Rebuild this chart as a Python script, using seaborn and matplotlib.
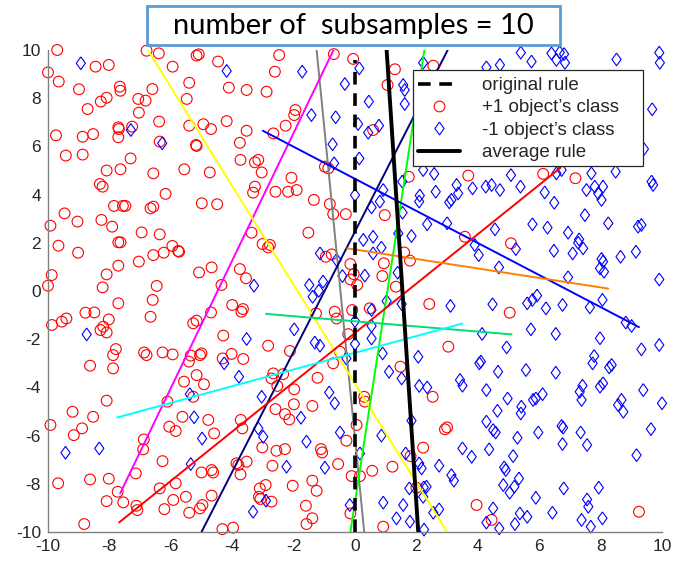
import numpy as np
import pandas as pd
import matplotlib
matplotlib.use("Agg")
import matplotlib.pyplot as plt
import seaborn as sns
from matplotlib.lines import Line2D
from matplotlib.patches import Rectangle

# ---------------- data ----------------
# +1 class (red circles)
pos_pts = [
    (-9.70,10.0),(-10.0,9.07),(-9.65,8.69),(-8.45,9.31),(-8.02,9.38),(-8.99,8.37),(-7.66,8.48),(-7.64,8.31),
    (-8.28,7.86),(-8.09,8.02),(-8.71,7.55),(-7.06,7.97),(-6.82,7.90),(-6.60,8.38),(-7.04,7.40),(-6.79,9.97),
    (-6.39,9.86),(-5.94,9.31),(-5.16,9.77),(-5.09,9.82),(-4.46,9.52),(-4.11,8.44),(-3.53,8.34),(-5.40,8.64),
    (-5.48,7.97),(-6.38,7.03),(-5.40,6.86),(-4.94,6.92),(-4.69,6.72),(-4.18,7.05),(-3.53,6.65),(-3.75,6.15),
    (-3.73,5.44),(-9.74,6.46),(-8.87,6.40),(-8.53,6.51),(-9.42,5.62),(-8.87,5.66),(-7.71,6.79),(-7.69,6.72),
    (-7.71,6.38),(-7.26,6.82),(-7.31,5.50),(-7.64,5.05),(-8.09,5.00),(-8.31,4.44),(-8.22,4.33),(-6.36,6.20),
    (-5.18,6.06),(-5.16,6.02),(-6.57,4.88),(-5.56,5.05),(-4.73,4.92),(-6.17,4.03),
    (-7.85,3.53),(-7.56,3.53),(-7.48,3.53),(-9.46,3.22),(-9.04,2.88),(-9.92,2.71),(-8.26,2.95),(-7.91,2.67),
    (-6.66,3.43),(-6.57,3.50),(-4.99,3.64),(-4.49,3.60),(-9.66,1.88),(-9.02,1.59),(-7.71,2.02),(-7.64,2.02),
    (-6.95,2.43),(-6.36,2.35),(-5.95,1.87),(-5.76,1.66),(-5.73,1.63),(-6.57,1.49),(-6.23,1.59),(-7.04,1.22),
    (-7.71,1.05),(-8.09,0.69),(-9.88,0.66),(-10.0,0.22),(-8.22,0.15),(-6.46,0.21),(-6.59,-0.37),(-7.71,-0.51),
    (-6.66,-1.07),(-8.78,-0.90),(-8.49,-0.89),(-8.02,-1.18),(-9.40,-1.14),(-9.55,-1.27),(-9.87,-1.41),
    (-8.20,-1.48),(-8.29,-1.62),(-8.09,-1.72),(-4.67,0.98),(-5.08,0.77),(-4.35,0.25),(-3.75,0.91),(-3.55,0.53),
    (-4.00,-0.58),(-3.70,-0.86),(-3.65,-0.75),(-4.69,-0.89),(-5.27,-1.34),(-5.16,-1.23),(-4.29,-1.85),
    (-7.79,-2.41),(-7.88,-2.66),(-6.87,-2.55),(-6.79,-2.66),(-6.27,-2.55),(-5.94,-2.63),(-5.35,-2.68),
    (-5.05,-2.66),(-5.00,-2.59),(-4.31,-2.80),(-4.02,-2.61),(-3.64,-2.82),
    (-8.63,-3.10),(-7.88,-3.21),(-5.57,-3.76),(-5.16,-3.49),(-4.92,-3.87),(-5.41,-2.93),(-5.27,-4.39),
    (-8.09,-4.55),(-9.20,-5.01),(-9.92,-5.56),(-8.53,-5.22),(-8.89,-5.70),(-9.16,-5.98),(-6.11,-4.59),
    (-5.62,-5.22),(-6.05,-5.63),(-5.84,-5.81),(-4.78,-5.35),(-4.59,-5.91),(-3.72,-5.35),(-3.67,-5.70),
    (-6.88,-6.16),(-6.90,-6.57),(-6.27,-7.06),(-3.86,-7.15),(-3.80,-7.22),(-3.53,-7.08),(-3.73,-7.61),
    (-5.00,-7.53),(-4.67,-7.43),(-4.62,-7.53),(-7.14,-7.57),(-8.63,-7.82),(-8.02,-7.79),(-9.67,-7.98),
    (-7.73,-8.33),(-7.55,-8.77),(-8.09,-8.72),(-5.84,-7.98),(-6.36,-8.19),(-5.92,-8.67),(-5.51,-8.54),
    (-4.67,-8.49),(-7.12,-8.91),(-7.09,-9.09),(-6.21,-9.05),(-5.40,-9.20),(-5.05,-9.02),(-4.97,-8.88),
    (-8.82,-9.67),(-4.32,-9.88),(-3.97,-9.82),
    (-2.47,9.79),(-2.61,9.10),(-0.69,9.83),(-0.06,9.63),(1.30,9.20),(2.55,9.35),(1.06,8.55),(-2.88,8.27),
    (-1.94,7.51),(-1.98,7.30),(-2.26,6.86),(-2.66,6.54),(0.59,6.68),(-3.15,5.44),(-3.26,5.34),(-3.04,4.92),
    (-0.98,5.16),(-0.87,5.09),(-2.07,4.70),(-2.59,4.12),(-2.18,4.12),(-1.90,4.19),(-3.32,4.08),(-3.26,4.33),
    (1.75,4.74),
    (-1.34,3.78),(-0.82,3.61),(-0.71,3.19),(-0.30,3.19),(0.97,3.15),(-1.52,2.42),(-3.37,2.42),(-3.01,1.95),
    (-2.77,1.91),(-2.83,1.81),(-0.95,1.42),(-0.76,1.52),(-0.15,1.12),(-0.04,0.70),(-0.15,0.48),(0.07,0.25),
    (0.89,0.62),(0.94,1.15),(1.60,1.60),(1.79,1.26),(1.33,0.18),(-1.27,-0.93),(-0.60,-1.14),(-0.66,-0.86),
    (-0.09,-0.79),(0.48,-0.72),(2.42,-0.54),(-0.22,-1.79),(-2.83,-2.27),(-2.12,-2.49),(-0.49,-2.52),(3.04,-2.31),
    (-0.71,-3.00),(1.48,-3.14),(-2.66,-3.42),(-2.72,-3.63),(-2.34,-3.45),(-1.22,-3.60),(-2.53,-3.94),
    (-1.98,-4.08),(0.30,-4.39),(0.32,-4.59),(2.53,-4.39),(-2.59,-4.90),(-2.28,-5.11),(-2.14,-5.33),
    (-1.99,-4.70),(-1.39,-4.77),(0.05,-5.56),(-0.28,-6.21),(2.93,-5.74),(3.00,-5.66),(-3.02,-6.49),
    (-2.56,-6.63),(-2.28,-6.56),(-1.11,-6.56),(-1.07,-6.70),(2.22,-6.50),(1.81,-6.85),(-2.69,-7.25),
    (-0.55,-7.18),(1.22,-7.29),(0.56,-7.46),(-0.11,-7.68),(0.16,-7.68),(-1.39,-7.87),(-2.03,-8.08),
    (-1.25,-8.29),(-3.10,-8.19),(-2.91,-8.05),(-3.13,-8.54),(-3.08,-8.63),(-2.72,-8.74),(2.00,-8.16),
    (-1.60,-8.91),(-1.39,-9.43),(-1.58,-9.67),(-0.15,-9.23),(0.92,-9.78),
    (3.69,4.79),(6.13,4.86),(7.18,4.68),(3.58,2.25),(5.08,1.98),(5.04,-0.90),
    (3.96,-8.88),(4.45,-9.50),(9.25,-9.16),
]

# -1 class (blue diamonds)
neg_pts = [
    (-8.93,9.45),(-7.30,6.68),(-6.28,6.13),(-4.18,9.13),(-8.74,-1.80),(-3.53,-1.99),
    (-4.26,-3.00),(-3.78,-3.56),(-5.38,-4.28),(-5.24,-5.24),(-4.98,-6.12),(-5.35,-7.18),(-9.43,-6.71),(-8.33,-6.53),
    (-1.72,9.10),(0.14,9.24),(-0.33,8.59),(0.45,7.86),(-1.42,7.30),(-0.63,7.21),(0.10,6.93),(0.43,6.57),
    (0.78,6.86),(-0.73,6.09),(0.14,5.50),(-0.68,5.30),(1.57,8.55),(1.62,8.34),(1.62,7.76),(2.22,9.47),
    (2.22,5.02),(2.58,4.86),(1.54,4.54),(0.92,4.19),(2.11,3.96),(2.63,4.12),
    (0.54,3.47),(0.81,3.71),(1.55,3.25),(2.09,3.71),(3.07,3.68),(3.14,3.78),(2.35,2.77),(3.00,2.81),
    (1.41,2.39),(1.84,2.28),(0.27,2.12),(0.59,2.25),(0.86,1.80),(0.59,1.56),(-1.14,1.56),(-0.60,1.29),
    (0.32,0.64),(-0.41,0.62),(1.39,0.76),(-3.29,0.22),(-1.49,0.25),(-1.04,0.39),(-1.38,-0.24),(-1.18,0.01),
    (1.03,-0.42),(1.52,-0.54),(3.11,-0.62),(0.00,-1.25),(0.54,-0.79),(0.54,-1.45),(-1.98,-1.59),
    (-1.31,-2.14),(-1.14,-2.27),(0.54,-1.97),(0.90,-2.59),(0.00,-2.20),(2.06,-2.73),(0.00,3.98),
    (-0.28,-2.80),(1.11,-3.35),(1.52,-3.63),(2.09,-3.94),(2.35,-4.00),(-3.04,-4.39),(-0.84,-4.21),
    (-0.66,-4.66),(-1.76,-5.26),(-3.15,-5.70),(-2.99,-6.05),(-0.49,-5.87),(0.86,-6.00),(1.84,-5.38),
    (-1.58,-6.25),(0.16,-6.74),(1.65,-6.74),(2.09,-7.15),(2.17,-7.36),(2.74,-7.25),(-2.23,-7.29),
    (-0.98,-7.33),(1.77,-8.19),(2.24,-8.15),(2.33,-8.12),(2.22,-8.54),(-2.90,-8.70),(-3.32,-9.16),
    (-0.17,-8.88),(0.92,-8.78),(1.57,-8.88),(2.55,-9.20),(2.74,-9.06),(1.35,-9.43),(1.79,-9.57),(2.25,-9.90),
    (5.40,9.89),(5.75,9.52),(6.40,9.86),(6.67,9.90),(6.81,9.83),(6.56,9.59),(6.84,9.47),(8.52,9.61),
    (9.91,9.89),(9.93,9.47),(4.72,9.38),(4.28,9.28),(9.68,7.54),(9.41,5.89),(3.31,4.40),(3.36,4.05),
    (3.83,4.26),(4.26,4.33),(4.45,4.40),(4.72,4.19),(5.08,4.81),(5.39,4.33),(6.18,4.09),(6.56,4.88),
    (6.73,5.02),(7.70,4.88),(7.81,4.33),(7.54,4.19),(7.92,4.05),(8.08,4.33),(8.49,4.95),(9.66,4.54),(9.71,4.40),
    (8.03,3.78),(6.49,3.66),(7.49,3.15),(8.25,2.81),(9.22,2.67),(9.33,2.74),(5.78,2.77),(6.27,2.63),
    (4.56,2.56),(6.94,2.42),(7.30,2.14),(7.27,2.00),(7.43,1.77),(3.90,1.91),(4.03,1.49),(5.24,1.74),
    (6.48,1.67),(7.09,1.56),(9.15,1.63),(8.65,1.42),(8.03,1.33),(8.08,1.22),(7.98,0.94),(8.11,0.80),
    (4.69,0.98),(6.94,0.57),(9.91,0.48),(4.48,-0.55),(5.61,-0.51),(5.78,-0.37),(5.93,-0.19),(6.22,-0.72),
    (6.76,-0.58),(7.65,-0.68),(8.06,-0.37),(8.82,-1.31),(9.01,-1.45),(4.14,-1.78),(5.73,-1.59),(6.54,-1.78),
    (7.98,-1.96),(4.94,-2.34),(9.33,-2.42),(9.91,-2.24),
    (4.05,-3.00),(4.10,-2.93),(4.66,-3.35),(5.57,-3.28),(6.54,-3.39),(7.79,-2.70),(7.74,-3.00),(8.36,-3.07),
    (8.28,-3.17),(3.42,-3.69),(3.50,-3.93),(4.28,-4.11),(4.97,-4.46),(5.80,-4.52),(5.89,-4.46),(6.11,-4.28),
    (7.32,-4.18),(7.41,-3.93),(7.38,-4.52),(8.08,-3.83),(7.98,-3.97),(9.39,-4.11),(8.68,-4.52),(8.57,-4.73),
    (8.74,-5.01),(10.0,-4.66),(4.64,-4.97),(5.42,-4.80),(5.40,-5.08),(4.28,-5.42),(4.50,-5.77),(4.58,-5.87),
    (5.29,-6.09),(5.97,-5.87),(6.73,-5.60),(6.78,-5.67),(7.35,-5.87),(6.76,-6.35),(7.56,-6.39),(9.64,-5.73),
    (3.50,-6.53),(3.80,-6.88),(4.37,-6.57),(5.15,-6.85),(9.17,-6.81),(4.86,-7.32),(4.91,-7.43),(5.34,-7.78),
    (3.14,-7.64),(3.22,-7.87),(4.83,-8.05),(5.04,-8.37),(5.19,-8.12),(6.80,-8.19),(7.94,-8.16),(5.89,-8.58),
    (7.56,-8.65),(7.60,-8.95),(4.50,-9.02),(5.37,-9.23),(5.61,-9.37),(6.43,-9.20),(7.38,-9.50),(7.68,-9.78),
    (8.06,-9.43),(4.28,-9.61),(5.21,-9.67),(4.70,-9.85),
]

# rules learned on the 10 subsamples (segment endpoints)
sub_colors  = ['#808080', '#FF00FF', '#FFFF00', '#00007F', '#00FF00',
               '#0000FF', '#FF0000', '#FF8000', '#00DD77', '#00FFFF']
sub_x_start = [-1.25, -7.65, -6.75, -5.00, -0.15, -3.00, -7.68, -0.25, -2.90, -7.75]
sub_y_start = [10.0,  -8.40, 10.0, -10.0, -10.0,  6.65, -9.60,  1.77, -0.95, -5.25]
sub_x_end   = [0.30,  -0.70,  3.00,  3.02,  2.26,  9.25,  6.70,  8.25,  5.10,  3.50]
sub_y_end   = [-10.0, 10.0, -10.0, 10.0,  10.0, -1.50,  5.12,  0.10, -1.80, -1.35]

orig_x = [0.0, 0.0]
orig_y = [-10.0, 9.6]
avg_x = [1.03, 2.06]
avg_y = [10.0, -10.0]

title_text = "number of  subsamples = 10"
legend_labels = ["original rule", "+1 object\u2019s class", "-1 object\u2019s class", "average rule"]
ticks = list(range(-10, 11, 2))

# ---------------- plot ----------------
sns.set_style("white")
plt.rcParams['font.family'] = ['Liberation Sans', 'DejaVu Sans']
plt.rcParams['axes.unicode_minus'] = False

W, H = 674, 566
fig = plt.figure(figsize=(W/100, H/100), dpi=100)
ax = fig.add_axes([48/W, 1-532/H, 614/W, 482/H])

pos_df = pd.DataFrame(pos_pts, columns=["x", "y"])
neg_df = pd.DataFrame(neg_pts, columns=["x", "y"])

diamond = [(0, 1), (0.72, 0), (0, -1), (-0.72, 0), (0, 1)]

sns.scatterplot(data=pos_df, x="x", y="y", ax=ax, marker="o", s=60,
                facecolor="none", edgecolor="#FF0000", linewidth=0.8, clip_on=False, zorder=2)
sns.scatterplot(data=neg_df, x="x", y="y", ax=ax, marker=diamond, s=84,
                facecolor="none", edgecolor="#0000FF", linewidth=0.8, clip_on=False, zorder=2)

for c, x0, y0, x1, y1 in zip(sub_colors, sub_x_start, sub_y_start, sub_x_end, sub_y_end):
    d = pd.DataFrame({"x": [x0, x1], "y": [y0, y1]})
    sns.lineplot(data=d, x="x", y="y", ax=ax, color=c, lw=1.4, estimator=None, sort=False, zorder=3)

dash = (0, (3.5, 2.4))
sns.lineplot(x=orig_x, y=orig_y, ax=ax, color="black", lw=2.6,
             estimator=None, sort=False, zorder=4)
ax.lines[-1].set_linestyle(dash)
sns.lineplot(x=avg_x, y=avg_y, ax=ax, color="black", lw=2.8, estimator=None, sort=False, zorder=4)

ax.set_xlim(-10, 10)
ax.set_ylim(-10, 10)
ax.set_xticks(ticks)
ax.set_yticks(ticks)
ax.set_xlabel("")
ax.set_ylabel("")
for s in ["top", "right"]:
    ax.spines[s].set_visible(False)
for s in ["left", "bottom"]:
    ax.spines[s].set_color("#808080")
    ax.spines[s].set_linewidth(1.0)
ax.tick_params(direction="in", length=4, width=0.8, color="#808080",
               labelsize=12.5, labelcolor="#262626", pad=5)
ax.patch.set_alpha(0)

# legend frame (MATLAB-style, wider than content)
fig.patches.append(Rectangle((413/W, 1-166/H), 230/W, 96/H, transform=fig.transFigure,
                             fill=True, facecolor="white", edgecolor="#262626", lw=0.9, zorder=8))

handles = [
    Line2D([], [], color="black", lw=2.6, linestyle=dash),
    Line2D([], [], ls="none", marker="o", mfc="none", mec="#FF0000", ms=7.7, mew=0.8),
    Line2D([], [], ls="none", marker=diamond, mfc="none", mec="#0000FF", ms=9.2, mew=0.8),
    Line2D([], [], color="black", lw=2.8),
]
leg = fig.legend(handles, legend_labels, loc="upper left", bbox_to_anchor=(418/W, 1-77/H),
                 bbox_transform=fig.transFigure, frameon=False,
                 fontsize=13.5, handlelength=2.25, handletextpad=1.15, borderpad=0,
                 labelspacing=0.28, borderaxespad=0)
leg.set_zorder(9)

fig.patches.append(Rectangle((147/W, 1-45/H), 413/W, 39/H, transform=fig.transFigure,
                             fill=True, facecolor="white", edgecolor="#5B9BD5", lw=2.0, zorder=20))
fig.text(353/W, 1-26/H, title_text, ha="center", va="center", fontsize=21,
         family=["Lato", "DejaVu Sans"], color="black", zorder=21)

fig.savefig("out.png", dpi=100)
